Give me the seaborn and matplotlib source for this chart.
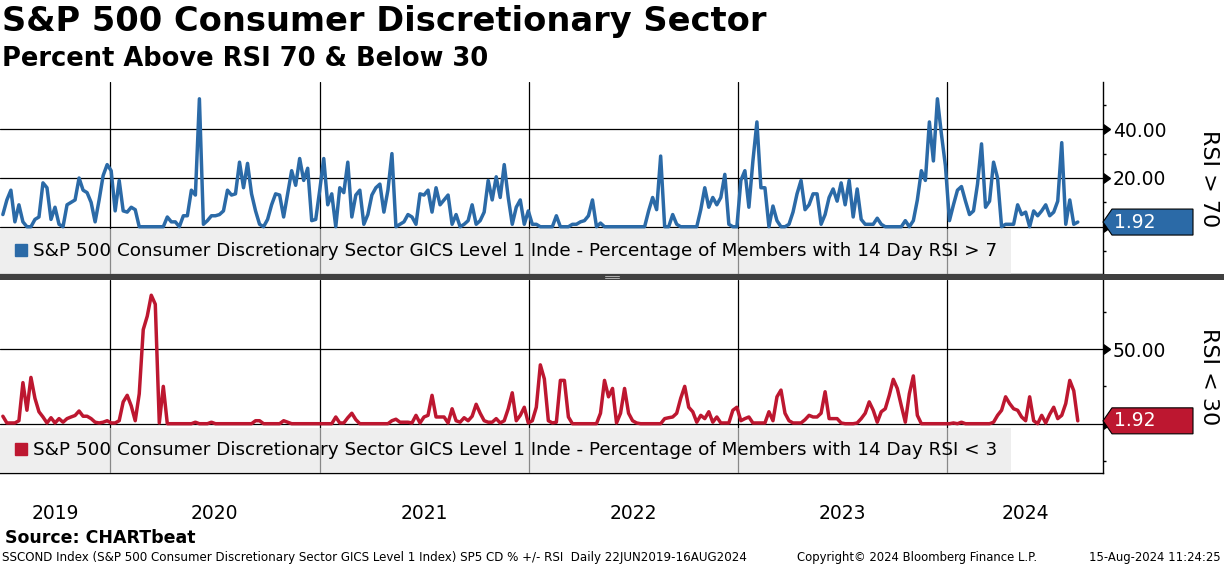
import pandas as pd
import matplotlib
matplotlib.use('Agg')
import matplotlib.pyplot as plt
import matplotlib.dates as mdates
import matplotlib.transforms as mtransforms
from matplotlib.lines import Line2D
from matplotlib.patches import Polygon, Rectangle
import seaborn as sns

# Weekly readings (% of members), 28JUN2019 .. 16AUG2024
above_70 = [
    5, 11, 15, 2, 9, 2, 0, 0, 3, 4,
    18, 16, 3, 8, 1, 0, 9, 10, 11, 20,
    15, 14, 10, 2, 11, 21, 25.5, 23, 6.5, 19,
    6.5, 6, 8, 7, 0, 0, 0, 0, 0, 0,
    0, 4, 2, 2, 0, 4.5, 4.5, 15, 13, 52.5,
    1, 2.5, 4.5, 4.5, 5, 6.5, 15, 13, 13.5, 26.5,
    16, 26, 13.5, 6.5, 1, 0, 3, 9, 13.5, 13,
    4, 13.5, 23, 17, 28, 19, 24, 2.5, 3, 15,
    28, 9, 13.5, 0, 16, 14, 26.5, 4, 13, 15,
    1, 5, 13, 16, 17.5, 6, 15, 30, 0, 1,
    2, 5, 4, 1, 13.5, 13, 15, 6, 16, 9,
    11, 13, 1, 5, 0, 1, 2.5, 9, 1, 2.5,
    6, 19, 11, 20.5, 12, 25.5, 12, 1, 8, 11,
    1, 6.5, 1, 1, 0, 0, 0, 0, 4.5, 0,
    0, 0, 1, 1, 2, 2.5, 4.5, 11, 0, 1.5,
    0, 0, 0, 0, 0, 0, 0, 0, 0, 0,
    0, 6.5, 12, 7, 29, 0, 0, 5, 1, 0,
    0, 0, 0, 0, 7, 16, 8, 12, 9, 12,
    21.5, 1, 0, 0, 19, 23, 8, 27, 43, 16,
    16, 0, 8.5, 2.5, 0, 0, 1, 6, 13.5, 19,
    7, 9, 13.5, 13.5, 1, 5, 12, 15.5, 10.5, 18,
    9, 19, 4, 15.5, 3, 1, 1, 1, 3.5, 1,
    0, 0, 0, 0, 0, 2.5, 0, 2.5, 11, 23,
    19, 43, 27, 52.5, 38, 25, 2.5, 9, 15, 16.5,
    10.5, 5, 6.5, 17.5, 34, 8, 10.5, 26.5, 20, 0,
    1, 1, 1, 9, 5, 6, 0, 6.5, 4.5, 6.5,
    9, 4.5, 6, 10.5, 34.5, 1, 11, 1, 1.92,
]
below_30 = [
    5, 0.5, 0.5, 0.5, 2, 27.5, 9, 31, 17, 8,
    4.5, 0.5, 4, 0.5, 3.4, 1, 3.4, 4.5, 5.5, 8.5,
    5, 5, 3.4, 1, 0.5, 1, 2, 0.5, 0.5, 2,
    14.6, 19, 12, 2, 20, 63, 72, 86, 80, 0.5,
    25, 0, 0, 0, 0, 0, 0, 0, 1, 0,
    0, 0, 1, 0, 0, 0, 0, 0, 0, 0,
    0, 0, 0, 2, 2, 0, 0, 0, 0, 0,
    2, 1, 0, 0, 0, 0, 0, 0, 0, 0,
    0, 0, 0, 4.5, 0.5, 0.5, 4, 7, 2.7, 0,
    0, 0, 0, 0, 0, 0, 0, 2, 3, 1,
    1, 1, 0.5, 5.6, 0.5, 4.5, 5.6, 19, 4.5, 4.5,
    4.5, 0.5, 10, 2, 1, 4, 2, 5, 13, 7,
    2, 1, 1, 3.4, 0.5, 2, 10, 20.7, 2, 5.6,
    11, 0.5, 2, 11, 39.4, 30, 2, 0.5, 1, 29,
    29, 4.5, 0, 0, 0, 0, 0, 0, 0, 7,
    29, 18, 23.6, 0.5, 7, 23.6, 7, 2, 0.5, 0,
    0, 0, 0, 0, 0, 3.4, 4, 4.5, 7, 17,
    25, 11, 8, 1, 5.6, 3.4, 8, 1, 4.5, 0.5,
    0.5, 0.5, 9, 11, 2, 3.4, 4.5, 0.5, 0.5, 0.5,
    0.5, 8, 2, 18, 22.5, 7, 2, 0.5, 0.5, 0.5,
    2.7, 5.6, 4.5, 4.5, 7, 21.4, 3.4, 3.4, 3.4, 0.5,
    0, 0, 0, 0.5, 3.4, 7, 14.6, 9, 1, 8,
    10, 19, 29.7, 23.6, 12, 1, 20, 32, 5.6, 0,
    0, 0, 0, 0, 0, 0, 0, 0.5, 0, 1,
    0, 0, 0, 0, 0, 0, 0, 1, 5.6, 9,
    18, 13.5, 10, 9, 4.5, 2, 18, 2, 0, 5.6,
    0.5, 6.3, 11, 3.4, 5.6, 13.5, 29, 22, 1.92,
]
dates = pd.date_range(end='2024-08-16', periods=len(above_70), freq='W-FRI')
years = [2019, 2020, 2021, 2022, 2023, 2024]

x_start = pd.Timestamp('2019-06-23')
x_end = pd.Timestamp('2024-09-29')

blue = '#2b6aa7'
red = '#bd1730'
legend_base = 'S&P 500 Consumer Discretionary Sector GICS Level 1 Inde - Percentage of Members with 14 Day RSI '

sns.set_style('white')
plt.rcParams['font.family'] = ['DejaVu Sans']
plt.rcParams['text.color'] = 'black'
plt.rcParams['xtick.color'] = 'black'
plt.rcParams['ytick.color'] = 'black'
plt.rcParams['xtick.labelcolor'] = 'black'
plt.rcParams['ytick.labelcolor'] = 'black'

W, H = 1224, 566
fig = plt.figure(figsize=(W / 100, H / 100), dpi=100)


def px_rect(x0, y0, x1, y1):
    # pixel box (top-left origin) -> figure fraction
    return [x0 / W, 1 - y1 / H, (x1 - x0) / W, (y1 - y0) / H]


ax_top = fig.add_axes(px_rect(0, 82, 1103, 274))
ax_bot = fig.add_axes(px_rect(0, 280, 1103, 473))

year_starts = [pd.Timestamp(f'{y}-01-01') for y in years[1:]]


def draw_panel(ax, values, color, ylim, major, minor, legend_text):
    df = pd.DataFrame({'date': dates, 'value': values})
    sns.lineplot(data=df, x='date', y='value', ax=ax, color=color, linewidth=2.5,
                 legend=False, zorder=3)
    ax.set_xlim(x_start, x_end)
    ax.set_ylim(*ylim)
    ax.set_xlabel('')
    ax.set_ylabel('')
    for s in ['left', 'top']:
        ax.spines[s].set_visible(False)
    for s in ['right', 'bottom']:
        ax.spines[s].set_color('black')
        ax.spines[s].set_linewidth(1)

    for v in major:
        ax.axhline(v, color='black', lw=0.9, zorder=1)
    for d in year_starts:
        ax.axvline(d, color='black', lw=0.9, zorder=1)

    ax.yaxis.tick_right()
    ax.set_yticks(major)
    ax.set_yticklabels(['' if v == 0 else f'{v:.2f}' for v in major])
    ax.set_yticks(minor, minor=True)
    ax.tick_params(axis='y', which='major', length=0, pad=7, labelsize=13.5,
                   labelcolor='black')
    ax.tick_params(axis='y', which='minor', length=2.5, width=1, direction='out', color='black')

    trans = mtransforms.blended_transform_factory(ax.transAxes, ax.transData)
    ax.plot([1] * len(major), major, transform=trans, ls='none', marker=9, ms=7,
            color='black', clip_on=False, zorder=4)

    handle = Line2D([], [], marker='s', ls='none', color=color, markersize=8.5)
    leg = ax.legend([handle], [legend_text], loc='lower left', bbox_to_anchor=(0, 0),
                    borderaxespad=0, fontsize=13.2, handlelength=0.8, handletextpad=0.25,
                    borderpad=0.74, fancybox=False, framealpha=0.6, facecolor='#e4e4e4',
                    edgecolor='none')
    for t in leg.get_texts():
        t.set_color('black')
    leg.set_zorder(5)


draw_panel(ax_top, above_70, blue, (-19.4, 59.4), [0, 20, 40], [-10, 10, 30, 50], legend_base + '> 7')
draw_panel(ax_bot, below_30, red, (-33, 96.2), [0, 50], [-25, 25, 75], legend_base + '< 3')

ax_top.tick_params(axis='x', which='both', length=0, labelbottom=False)

# bottom date axis: long grey year separators, short quarter ticks
ax_bot.set_xticks(year_starts)
ax_bot.xaxis.set_minor_locator(mdates.MonthLocator(bymonth=[1, 4, 7, 10]))
ax_bot.tick_params(axis='x', which='major', length=36, width=1, color='#8a8a8a',
                   direction='out', labelbottom=False)
ax_bot.tick_params(axis='x', which='minor', length=2.5, width=1, color='black',
                   direction='out', labelbottom=False)

xtrans = mtransforms.blended_transform_factory(ax_bot.transData, ax_bot.transAxes)
for y in years:
    lo = max(pd.Timestamp(f'{y}-01-01'), x_start)
    hi = min(pd.Timestamp(f'{y + 1}-01-01'), x_end)
    ax_bot.text(lo + (hi - lo) / 2, -46 / 193, str(y), transform=xtrans,
                ha='center', va='baseline', fontsize=13.5, color='black')

# divider between the two panels
fig.add_artist(Rectangle((0, 1 - 280 / H), 1, 6 / H, transform=fig.transFigure,
                         facecolor='#404040', edgecolor='none'))
for gy in (276.3, 277.8):
    fig.add_artist(Line2D([605 / W, 619 / W], [1 - gy / H] * 2, transform=fig.transFigure,
                          color='#b0b0b0', lw=0.7))


def value_tag(ax, value, color):
    xd = mdates.date2num(dates[-1])
    _, yp = ax.transData.transform((xd, value))
    xp = ax.transAxes.transform((1, 0))[0]
    h = 13
    verts = [(xp, yp), (xp + 9, yp + h), (xp + 90, yp + h), (xp + 90, yp - h), (xp + 9, yp - h)]
    fig.add_artist(Polygon([(vx / W, vy / H) for vx, vy in verts], closed=True,
                           transform=fig.transFigure, facecolor=color,
                           edgecolor='black', lw=0.8))
    fig.text((xp + 11) / W, yp / H, f'{value:.2f}', color='white', fontsize=13.5,
             ha='left', va='center')


value_tag(ax_top, above_70[-1], blue)
value_tag(ax_bot, below_30[-1], red)

fig.text(1209 / W, 1 - 179 / H, 'RSI > 70', rotation=-90, ha='center', va='center', fontsize=16)
fig.text(1209 / W, 1 - 377 / H, 'RSI < 30', rotation=-90, ha='center', va='center', fontsize=16)

fig.text(2 / W, 1 - 31 / H, 'S&P 500 Consumer Discretionary Sector', fontsize=24.2,
         fontweight='bold', va='baseline', ha='left')
fig.text(2 / W, 1 - 66 / H, 'Percent Above RSI 70 & Below 30', fontsize=18.5,
         fontweight='bold', va='baseline', ha='left')
fig.text(5 / W, 1 - 543 / H, 'Source: CHARTbeat', fontsize=12.5, fontweight='bold',
         va='baseline', ha='left')
fig.text(2 / W, 1 - 561 / H,
         'SSCOND Index (S&P 500 Consumer Discretionary Sector GICS Level 1 Index) SP5 CD % +/- RSI  Daily 22JUN2019-16AUG2024',
         fontsize=8.55, va='baseline', ha='left')
fig.text(797 / W, 1 - 561 / H, 'Copyright\u00a9 2024 Bloomberg Finance L.P.', fontsize=8.4,
         va='baseline', ha='left')
fig.text(1221 / W, 1 - 561 / H, '15-Aug-2024 11:24:25', fontsize=8.4, va='baseline', ha='right')

fig.savefig('out.png', dpi=100)
